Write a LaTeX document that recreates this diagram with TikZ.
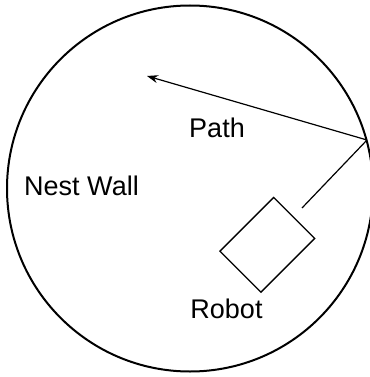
\documentclass[tikz,border=0pt]{standalone}
\usepackage{fontspec}
\setmainfont{Liberation Sans}
\usetikzlibrary{arrows.meta}
\begin{document}
\begin{tikzpicture}[x=1pt,y=-1pt,
  wall/.style={line width=2pt},
  pathline/.style={line width=1.2pt},
  lbl/.style={font=\fontsize{27}{27}\selectfont, anchor=base, inner sep=0pt},
  robotbox/.style={draw, line width=1.3pt, rectangle, minimum width=58pt, minimum height=76pt, rotate=-45, inner sep=0pt}]
\useasboundingbox (0,0) rectangle (369,377);
\node[wall, draw, circle, minimum size=366pt, inner sep=0pt] (nest) at (190,188.5) {};
\coordinate (hit) at (367,140);
\coordinate (tip) at (147,76);
\coordinate (lineend) at (302,208);
\node[robotbox] (robot) at (267.3,244.8) {};
\draw[pathline, -{Stealth[length=11pt,width=8pt]}] (hit) -- (tip);
\draw[pathline] (hit) -- (lineend);
\node[lbl] (pathlbl) at (217,137) {Path};
\node[lbl] (walllbl) at (81.5,195) {Nest Wall};
\node[lbl] (robotlbl) at (226.5,318) {Robot};
\end{tikzpicture}
\end{document}
